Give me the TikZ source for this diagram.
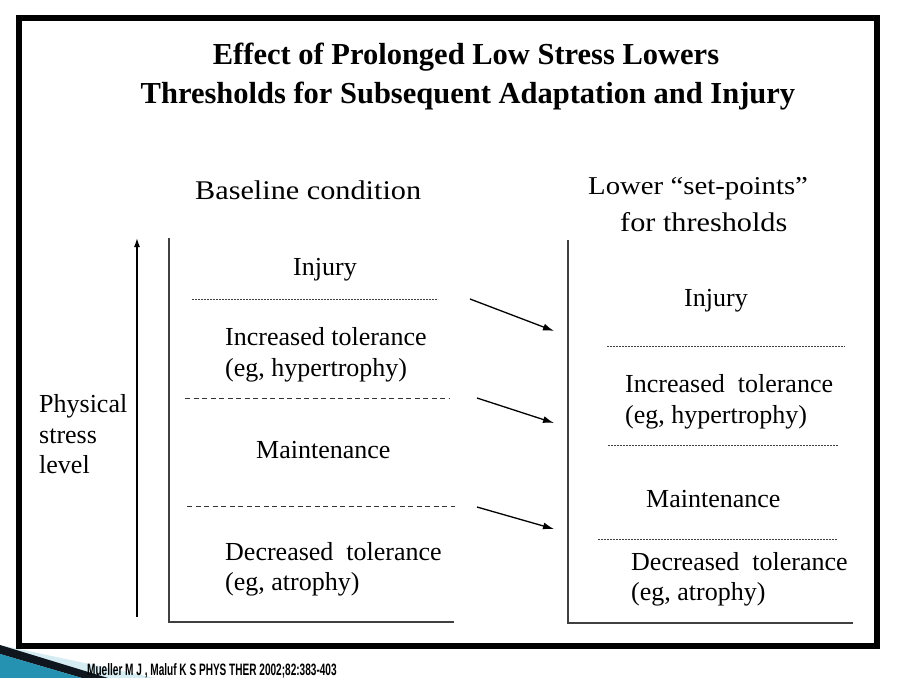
\documentclass[tikz,border=0pt]{standalone}
\usepackage{fontspec}
\setmainfont{Liberation Serif}
\newfontfamily\headfont[FakeStretch=1.12]{Liberation Serif}
\newfontfamily\citefont[FakeStretch=0.61]{Liberation Sans}
\usetikzlibrary{arrows.meta}

\definecolor{swooshteal}{RGB}{38,146,178}
\definecolor{swooshlight}{RGB}{214,236,243}
\definecolor{swooshdark}{RGB}{16,22,30}

\tikzset{
  body/.style={font=\fontsize{26}{30}\selectfont, inner sep=0pt, anchor=base west},
  colhead/.style={font=\headfont\fontsize{27}{32}\selectfont, inner sep=0pt, anchor=base west},
  headline/.style={font=\fontsize{30.5}{36}\selectfont\bfseries, inner sep=0pt, anchor=base},
  fineline/.style={line width=0.9pt, dash pattern=on 2pt off 1pt, black!75},
  dashline/.style={line width=0.9pt, dash pattern=on 5pt off 3.5pt, black!80},
  boxline/.style={line width=1.4pt, black!75},
  shiftarrow/.style={line width=1.3pt, -{Latex[length=11pt,width=7pt]}}
}

\begin{document}
\begin{tikzpicture}[x=1pt,y=-1pt]
\useasboundingbox (0,0) rectangle (898,678);
\fill[white] (0,0) rectangle (898,678);

% swoosh in the corner
\fill[swooshlight] (0,645) -- (155,678) -- (0,678) -- cycle;
\fill[swooshdark] (0,645) -- (108,678) -- (82,678) -- (0,654) -- cycle;
\fill[swooshteal] (0,654) -- (82,678) -- (0,678) -- cycle;

% frame
\draw[line width=6pt] (19,18) rectangle (877,646);

% title
\node[headline] (title1) at (466,64) {Effect of Prolonged Low Stress Lowers};
\node[headline] (title2) at (468,103) {Thresholds for Subsequent Adaptation and Injury};

% baseline side
\node[colhead] (basehead) at (195,199) {Baseline condition};
\coordinate (upbot) at (137,617);
\coordinate (uptop) at (137,238);
\draw[line width=1.4pt, -{Latex[length=9pt,width=6pt]}] (upbot) -- (uptop);
\draw[boxline] (169,238) -- (169,622) -- (454,622);
\node[body] (phys1) at (39,412) {Physical};
\node[body] (phys2) at (39,443) {stress};
\node[body] (phys3) at (39,473) {level};

\node[body, anchor=base] (linj) at (325,275) {Injury};
\draw[fineline] (192,299) -- (438,299);
\node[body] (linc1) at (225,345) {Increased tolerance};
\node[body] (linc2) at (225,376) {(eg, hypertrophy)};
\draw[dashline] (185,398) -- (450,398);
\node[body] (lmain) at (256,458) {Maintenance};
\draw[dashline] (187,506) -- (455,506);
\node[body] (ldec1) at (225,560) {Decreased \ tolerance};
\node[body] (ldec2) at (225,590) {(eg, atrophy)};

% shifted side
\node[colhead, font=\headfont\fontsize{25.7}{30}\selectfont] (lowhead1) at (588,194) {Lower “set-points”};
\node[colhead] (lowhead2) at (620,231) {for thresholds};
\draw[boxline] (568,240) -- (568,623) -- (853,623);

\node[body, anchor=base] (rinj) at (716,306) {Injury};
\draw[fineline] (607,346) -- (845,346);
\node[body] (rinc1) at (625,392) {Increased \ tolerance};
\node[body] (rinc2) at (625,423) {(eg, hypertrophy)};
\draw[fineline] (608,445) -- (838,445);
\node[body] (rmain) at (646,507) {Maintenance};
\draw[fineline] (598,539) -- (837,539);
\node[body] (rdec1) at (631,570) {Decreased \ tolerance};
\node[body] (rdec2) at (631,600) {(eg, atrophy)};

% shift arrows
\coordinate (s1a) at (470,299);
\coordinate (s1b) at (554,331);
\coordinate (s2a) at (477,398);
\coordinate (s2b) at (554,423);
\coordinate (s3a) at (477,507);
\coordinate (s3b) at (554,529);
\draw[shiftarrow] (s1a) -- (s1b);
\draw[shiftarrow] (s2a) -- (s2b);
\draw[shiftarrow] (s3a) -- (s3b);

% citation
\node[inner sep=0pt, anchor=base west, font=\citefont\bfseries\fontsize{16.5}{18}\selectfont] (cite) at (87,675) {Mueller M J , Maluf K S PHYS THER 2002;82:383-403};
\end{tikzpicture}
\end{document}
